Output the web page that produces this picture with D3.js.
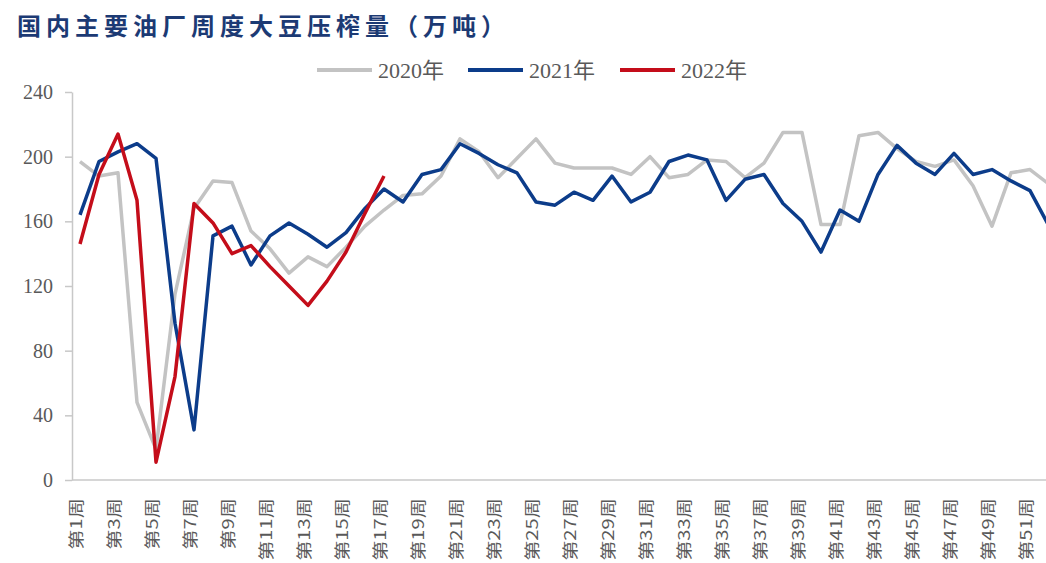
<!DOCTYPE html>
<html>
<head>
<meta charset="utf-8">
<script src="https://cdn.jsdelivr.net/npm/d3@7"></script>
<style>
  body { margin: 0; background: #fff; }
  svg { display: block; }
</style>
</head>
<body>
<div id="chart"></div>
<script>
// weekly soybean crush at major domestic plants (10k tonnes)
const weeks = d3.range(1, 53).map(i => '第' + i + '周');
const tickWeeks = weeks.filter((d, i) => i % 2 === 0);
const yTicks = [0, 40, 80, 120, 160, 200, 240];

const y2020 = [197, 188, 190, 48, 19, 115, 168, 185, 184, 154, 143, 128, 138, 132, 144, 157, 167, 176, 177, 188,
  211, 203, 187, 199, 211, 196, 193, 193, 193, 189, 200, 187, 189, 198, 197, 187, 196, 215, 215, 158,
  158, 213, 215, 205, 197, 194, 198, 182, 157, 190, 192, 183];
const y2021 = [164, 197, 203, 208, 199, 97, 31, 151, 157, 133, 151, 159, 152, 144, 153, 168, 180, 172, 189, 192,
  208, 202, 195, 190, 172, 170, 178, 173, 188, 172, 178, 197, 201, 198, 173, 186, 189, 171, 160, 141,
  167, 160, 189, 207, 196, 189, 202, 189, 192, 185, 179, 157];
const y2022 = [146, 189, 214, 173, 11, 64, 171, 159, 140, 145, 132, 120, 108, 123, 141, 165, 188];

const seriesNames = ['2020年', '2021年', '2022年'];
const seriesColors = ['#c3c3c3', '#0c3c8a', '#c40d1a'];
const seriesValues = [y2020, y2021, y2022];

const width = 1046;
const height = 563;

const svg = d3.select('#chart')
  .append('svg')
  .attr('width', width)
  .attr('height', height);

// title
svg.append('text')
  .attr('x', 17)
  .attr('y', 35)
  .attr('fill', '#1c3a74')
  .attr('font-family', '"Noto Sans CJK SC", sans-serif')
  .attr('font-weight', 700)
  .attr('font-size', 24)
  .attr('letter-spacing', 5)
  .text('国内主要油厂周度大豆压榨量（万吨）');

// scales
const x = d3.scalePoint()
  .domain(weeks)
  .range([80, 80 + 19 * 51]);

const y = d3.scaleLinear()
  .domain([0, 240])
  .range([480, 92]);

const axisColor = '#c8c8c8';
const textColor = '#595959';

// y axis
const yAxis = svg.append('g')
  .attr('transform', 'translate(72,0)')
  .call(d3.axisLeft(y).tickValues(yTicks).tickSize(7).tickPadding(12).tickSizeOuter(0));
yAxis.select('.domain').attr('stroke', axisColor).attr('stroke-width', 1.5);
yAxis.selectAll('.tick line').attr('stroke', axisColor).attr('stroke-width', 1.5);
yAxis.selectAll('text')
  .attr('fill', textColor)
  .attr('font-family', '"Liberation Serif", serif')
  .attr('font-size', 20);

// x axis
const xAxis = svg.append('g')
  .attr('transform', 'translate(0,480)')
  .call(d3.axisBottom(x).tickValues(tickWeeks).tickSize(0));
xAxis.select('.domain').remove();
xAxis.append('line')
  .attr('x1', 72).attr('x2', width)
  .attr('stroke', axisColor)
  .attr('stroke-width', 1.5);
xAxis.selectAll('text')
  .attr('fill', textColor)
  .attr('font-family', '"Noto Sans CJK SC", sans-serif')
  .attr('font-size', 15.5)
  .attr('text-anchor', 'end')
  .attr('transform', 'translate(-4,0) rotate(-90) scale(1.3,1)')
  .attr('x', -14)
  .attr('y', 0)
  .attr('dy', '0.35em');

// lines
const line = d3.line()
  .x((d, i) => x(weeks[i]))
  .y(d => y(d));

svg.append('g')
  .selectAll('path')
  .data(seriesValues)
  .join('path')
  .attr('d', d => line(d))
  .attr('fill', 'none')
  .attr('stroke', (d, i) => seriesColors[i])
  .attr('stroke-width', 3.5)
  .attr('stroke-linejoin', 'round');

// legend
const legendX = [317, 468, 620];
const legend = svg.append('g')
  .selectAll('g')
  .data(seriesNames)
  .join('g')
  .attr('transform', (d, i) => `translate(${legendX[i]},70)`);

legend.append('line')
  .attr('x1', 0).attr('x2', 55)
  .attr('stroke', (d, i) => seriesColors[i])
  .attr('stroke-width', 4);

legend.append('text')
  .attr('x', 61)
  .attr('dy', '0.35em')
  .attr('fill', textColor)
  .attr('font-family', '"Liberation Serif", "Noto Sans CJK SC", serif')
  .attr('font-size', 22)
  .text(d => d);
</script>
</body>
</html>
